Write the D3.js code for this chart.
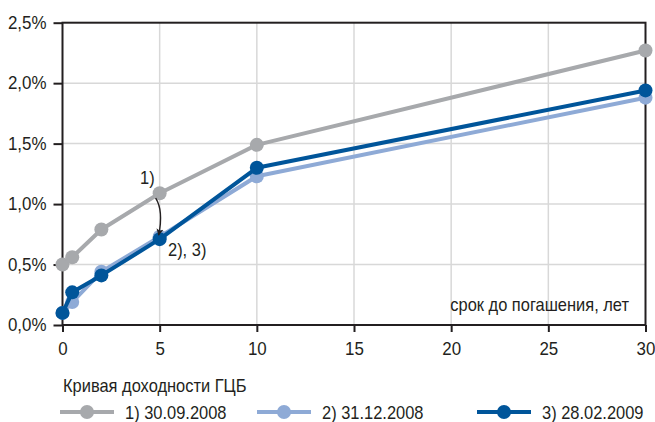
<!DOCTYPE html>
<html>
<head>
<meta charset="utf-8">
<script src="https://cdn.jsdelivr.net/npm/d3@7"></script>
<style>
  html, body { margin: 0; padding: 0; background: #fff; }
  svg text { font-family: "Liberation Sans", Arial, sans-serif; fill: #231f20; }
</style>
</head>
<body>
<svg id="chart" width="655" height="422"></svg>
<script>
// Maturity (years) and yields (%) of the government bond yield curve
const maturities = [0, 0.5, 2, 5, 10, 30];
const yields1 = [0.50, 0.56, 0.79, 1.09, 1.49, 2.27];   // 30.09.2008
const yields2 = [0.10, 0.19, 0.44, 0.73, 1.23, 1.88];   // 31.12.2008
const yields3 = [0.10, 0.27, 0.41, 0.71, 1.30, 1.94];   // 28.02.2009
const seriesNames = ["1) 30.09.2008", "2) 31.12.2008", "3) 28.02.2009"];
const seriesColors = ["#a7a9ac", "#8eaad6", "#00559a"];
const xTicks = [0, 5, 10, 15, 20, 25, 30];
const yTicks = [0, 0.5, 1.0, 1.5, 2.0, 2.5];
const legendTitle = "Кривая доходности ГЦБ";
const xAxisTitle = "срок до погашения, лет";

const series = [yields1, yields2, yields3].map((vals, i) => ({
  name: seriesNames[i],
  color: seriesColors[i],
  points: maturities.map((m, j) => ({ x: m, y: vals[j] }))
}));

const svg = d3.select("#chart");
const plotL = 62.5, plotR = 645.5, plotT = 22.7, plotB = 325;
const SX = 0.94; // horizontal squeeze for a condensed look of the lettering

const x = d3.scaleLinear().domain([0, 30]).range([plotL, plotR]);
const y = d3.scaleLinear().domain([0, 2.5]).range([plotB, plotT]);

const ink = "#231f20";
const gridColor = "#d8d8d8";

// places a condensed text at (px, py)
function label(parent, px, py, str, size, anchor) {
  return parent.append("text")
    .attr("transform", `translate(${px},${py}) scale(${SX},1)`)
    .attr("text-anchor", anchor || "start")
    .attr("font-size", size).text(str);
}

// grid
svg.append("g").selectAll("line").data(yTicks.filter(t => t > 0 && t < 2.5)).join("line")
  .attr("x1", plotL).attr("x2", plotR)
  .attr("y1", d => y(d)).attr("y2", d => y(d))
  .attr("stroke", gridColor).attr("stroke-width", 1.5);
svg.append("g").selectAll("line").data(xTicks.filter(t => t > 0 && t < 30)).join("line")
  .attr("y1", plotT).attr("y2", plotB)
  .attr("x1", d => x(d)).attr("x2", d => x(d))
  .attr("stroke", gridColor).attr("stroke-width", 1.5);

// axes
const fmtY = d => d3.format(".1f")(d).replace(".", ",") + "%";
const yAxis = svg.append("g").attr("transform", `translate(${plotL},0)`)
  .call(d3.axisLeft(y).tickValues(yTicks).tickFormat(fmtY).tickSize(9).tickPadding(7));
const xAxis = svg.append("g").attr("transform", `translate(0,${plotB})`)
  .call(d3.axisBottom(x).tickValues(xTicks).tickSize(7).tickPadding(10));
[yAxis, xAxis].forEach(g => {
  g.select(".domain").remove();
  g.selectAll(".tick line").attr("stroke", ink).attr("stroke-width", 2);
  g.selectAll(".tick text").attr("font-size", 18).attr("fill", ink)
    .style("font-family", '"Liberation Sans", Arial, sans-serif');
});
// squeeze tick labels while keeping their anchor points
yAxis.selectAll(".tick text").each(function () {
  const t = d3.select(this);
  const tx = +t.attr("x");
  t.attr("x", tx / SX).attr("transform", `scale(${SX},1)`);
});
xAxis.selectAll(".tick text").attr("transform", `scale(${SX},1)`);

// frame
svg.append("rect").attr("x", plotL).attr("y", plotT)
  .attr("width", plotR - plotL).attr("height", plotB - plotT)
  .attr("fill", "none").attr("stroke", ink).attr("stroke-width", 2);

// axis title
label(svg, 629, 311, xAxisTitle, 17.5, "end");

// lines and markers
const line = d3.line().x(d => x(d.x)).y(d => y(d.y));
const sg = svg.append("g").selectAll("g").data(series).join("g");
sg.append("path").attr("d", d => line(d.points))
  .attr("fill", "none").attr("stroke", d => d.color).attr("stroke-width", 4)
  .attr("stroke-linejoin", "round");
sg.selectAll("circle").data(d => d.points.map(p => ({ ...p, color: d.color }))).join("circle")
  .attr("cx", d => x(d.x)).attr("cy", d => y(d.y)).attr("r", 7).attr("fill", d => d.color);

// annotation: shift of the curve at 5 years
const from = [x(5) - 4, y(yields1[3]) + 5];
const to = [x(5) - 1, y(yields3[3]) - 4];
svg.append("defs").append("marker").attr("id", "arrow")
  .attr("viewBox", "0 0 10 10").attr("refX", 9).attr("refY", 5)
  .attr("markerWidth", 10).attr("markerHeight", 7).attr("markerUnits", "userSpaceOnUse")
  .attr("orient", "auto")
  .append("path").attr("d", "M0,0 L10,5 L0,10 L2.5,5 Z").attr("fill", ink);
svg.append("path")
  .attr("d", `M${from[0]},${from[1]} Q${from[0] + 8},${(from[1] + to[1]) / 2 - 6} ${to[0]},${to[1]}`)
  .attr("fill", "none").attr("stroke", ink).attr("stroke-width", 1.4)
  .attr("marker-end", "url(#arrow)");
label(svg, 140, 184, "1)", 17.5);
label(svg, 168, 256, "2), 3)", 17.5);

// legend
label(svg, 63, 392, legendTitle, 17.5);
const legendX = [60, 257, 477];
const lg = svg.append("g").selectAll("g").data(series).join("g")
  .attr("transform", (d, i) => `translate(${legendX[i]},412)`);
lg.append("line").attr("x1", 0).attr("x2", 54).attr("stroke", d => d.color).attr("stroke-width", 4);
lg.append("circle").attr("cx", 27).attr("r", 7).attr("fill", d => d.color);
lg.each(function (d) { label(d3.select(this), 65, 6.5, d.name, 17.5); });
</script>
</body>
</html>
